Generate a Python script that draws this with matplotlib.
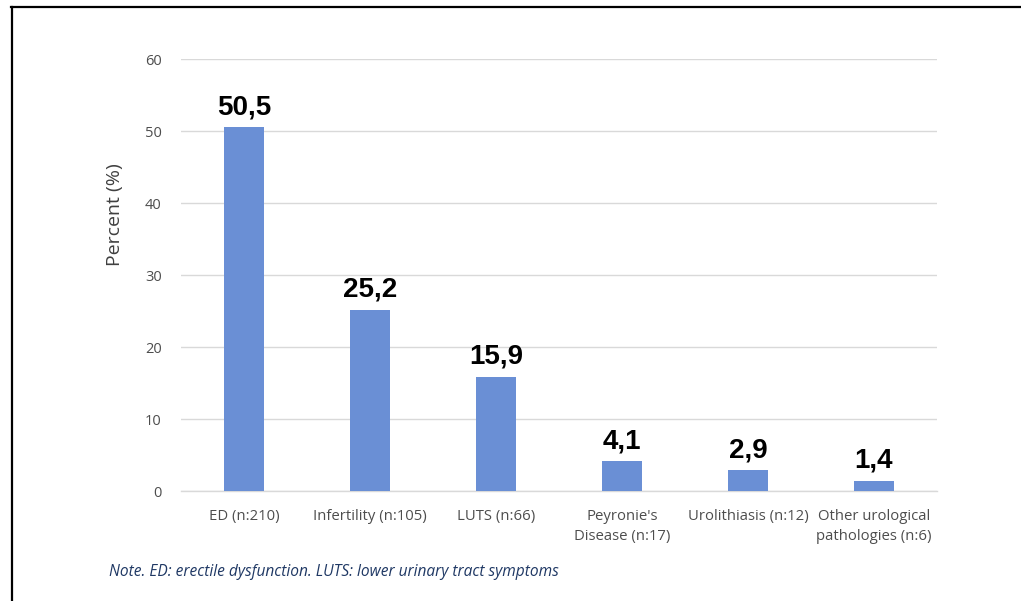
import matplotlib.pyplot as plt
from matplotlib.lines import Line2D
import numpy as np

# Reasons for consultation, percent of patients
categories = ["ED (n:210)", "Infertility (n:105)", "LUTS (n:66)",
              "Peyronie's\nDisease (n:17)", "Urolithiasis (n:12)",
              "Other urological\npathologies (n:6)"]
percent = [50.5, 25.2, 15.9, 4.1, 2.9, 1.4]
y_ticks = [0, 10, 20, 30, 40, 50, 60]

BAR_COLOR = "#6a8fd5"
GRID_COLOR = "#d9d9d9"
TICK_COLOR = "#4d4d4d"

fig = plt.figure(figsize=(10.21, 6.01), dpi=100)
ax = fig.add_axes([0.1773, 0.183, 0.7404, 0.7188])

x = np.arange(len(categories))
ax.bar(x, percent, width=0.31, color=BAR_COLOR, zorder=3)

for xi, v in zip(x, percent):
    ax.annotate(f"{v:.1f}".replace(".", ","), (xi, v), xytext=(0, 5),
                textcoords="offset points", ha="center", va="bottom",
                fontsize=20, fontweight="bold", family="Liberation Sans",
                color="black")

ax.set_xlim(-0.5, len(categories) - 0.5)
ax.set_ylim(0, 60)
ax.set_yticks(y_ticks)
ax.set_yticklabels([str(t) for t in y_ticks], fontsize=10.5, family="Open Sans",
                   color=TICK_COLOR)
ax.set_xticks(x)
ax.set_xticklabels(categories, fontsize=10.7, family="Open Sans", color=TICK_COLOR,
                   linespacing=1.45)
ax.tick_params(axis="both", length=0)
ax.tick_params(axis="y", pad=14)
ax.tick_params(axis="x", pad=13)
ax.grid(axis="y", color=GRID_COLOR, linewidth=1, zorder=0)
for side in ["top", "right", "left"]:
    ax.spines[side].set_visible(False)
ax.spines["bottom"].set_color(GRID_COLOR)
ax.spines["bottom"].set_linewidth(1)

# y label sits above the axis centre
fig.text(115 / 1021, 1 - 215 / 601, "Percent (%)", rotation=90, fontsize=14,
         family="Open Sans", color="#404040", ha="center", va="center")

fig.text(0.107, 0.048, "Note. ED: erectile dysfunction. LUTS: lower urinary tract symptoms",
         fontsize=11.2, family="Open Sans", style="italic", color="#1f3864",
         ha="left", va="center")

# outer frame: left and top edges
fig.add_artist(Line2D([0.0113, 0.0113], [0.0, 0.988], transform=fig.transFigure,
                      color="black", linewidth=1.6))
fig.add_artist(Line2D([0.0108, 1.0], [0.988, 0.988], transform=fig.transFigure,
                      color="black", linewidth=1.6))

fig.savefig("out.png", dpi=100)
